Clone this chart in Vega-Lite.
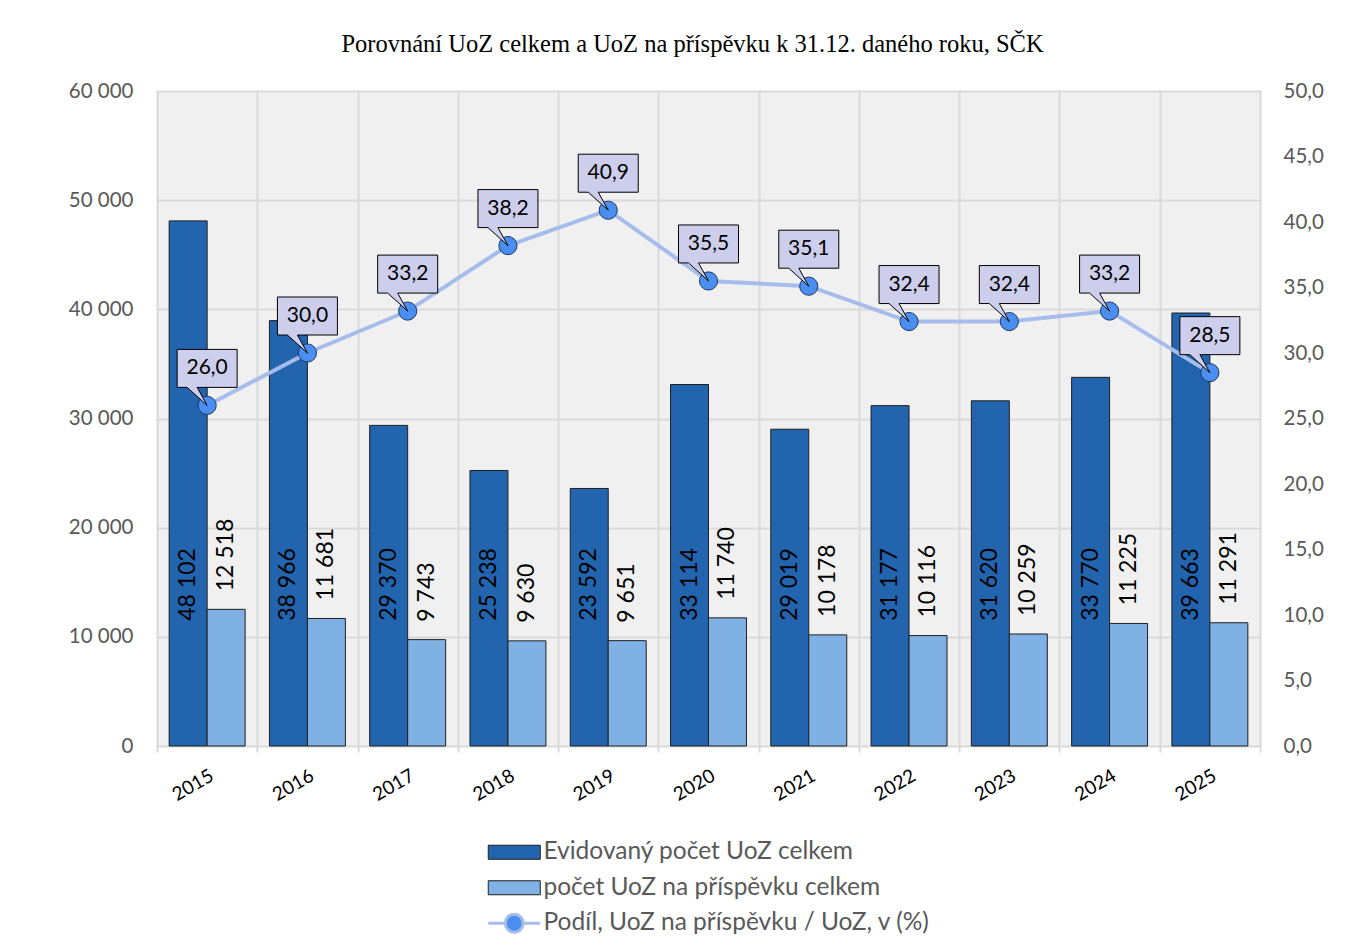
{
  "$schema": "https://vega.github.io/schema/vega-lite/v6.json",
  "width": 1103,
  "height": 655,
  "autosize": {"type": "none"},
  "padding": {"left": 157, "top": 91, "right": 108, "bottom": 202},
  "background": "white",
  "title": {
    "text": "Porovnání UoZ celkem a UoZ na příspěvku k 31.12. daného roku, SČK",
    "font": "Liberation Serif",
    "fontSize": 24.5,
    "fontWeight": "normal",
    "color": "#000000",
    "anchor": "middle",
    "offset": 24,
    "dx": -16
  },
  "config": {
    "locale": {"number": {"decimal": ",", "thousands": " ", "grouping": [3], "currency": ["", ""]}},
    "view": {"stroke": "#404040", "strokeWidth": 1, "fill": "#f0f0f0"},
    "font": "Lato"
  },
  "datasets": {
    "bars": [
      {"rok": "2015", "serie": "Evidovaný počet UoZ celkem", "hodnota": 48102},
      {"rok": "2016", "serie": "Evidovaný počet UoZ celkem", "hodnota": 38966},
      {"rok": "2017", "serie": "Evidovaný počet UoZ celkem", "hodnota": 29370},
      {"rok": "2018", "serie": "Evidovaný počet UoZ celkem", "hodnota": 25238},
      {"rok": "2019", "serie": "Evidovaný počet UoZ celkem", "hodnota": 23592},
      {"rok": "2020", "serie": "Evidovaný počet UoZ celkem", "hodnota": 33114},
      {"rok": "2021", "serie": "Evidovaný počet UoZ celkem", "hodnota": 29019},
      {"rok": "2022", "serie": "Evidovaný počet UoZ celkem", "hodnota": 31177},
      {"rok": "2023", "serie": "Evidovaný počet UoZ celkem", "hodnota": 31620},
      {"rok": "2024", "serie": "Evidovaný počet UoZ celkem", "hodnota": 33770},
      {"rok": "2025", "serie": "Evidovaný počet UoZ celkem", "hodnota": 39663},
      {"rok": "2015", "serie": "počet UoZ na příspěvku celkem", "hodnota": 12518},
      {"rok": "2016", "serie": "počet UoZ na příspěvku celkem", "hodnota": 11681},
      {"rok": "2017", "serie": "počet UoZ na příspěvku celkem", "hodnota": 9743},
      {"rok": "2018", "serie": "počet UoZ na příspěvku celkem", "hodnota": 9630},
      {"rok": "2019", "serie": "počet UoZ na příspěvku celkem", "hodnota": 9651},
      {"rok": "2020", "serie": "počet UoZ na příspěvku celkem", "hodnota": 11740},
      {"rok": "2021", "serie": "počet UoZ na příspěvku celkem", "hodnota": 10178},
      {"rok": "2022", "serie": "počet UoZ na příspěvku celkem", "hodnota": 10116},
      {"rok": "2023", "serie": "počet UoZ na příspěvku celkem", "hodnota": 10259},
      {"rok": "2024", "serie": "počet UoZ na příspěvku celkem", "hodnota": 11225},
      {"rok": "2025", "serie": "počet UoZ na příspěvku celkem", "hodnota": 11291}
    ],
    "podil": [
      {"rok": "2015", "serie": "Podíl, UoZ na příspěvku / UoZ, v (%)", "podil": 26.0},
      {"rok": "2016", "serie": "Podíl, UoZ na příspěvku / UoZ, v (%)", "podil": 30.0},
      {"rok": "2017", "serie": "Podíl, UoZ na příspěvku / UoZ, v (%)", "podil": 33.2},
      {"rok": "2018", "serie": "Podíl, UoZ na příspěvku / UoZ, v (%)", "podil": 38.2},
      {"rok": "2019", "serie": "Podíl, UoZ na příspěvku / UoZ, v (%)", "podil": 40.9},
      {"rok": "2020", "serie": "Podíl, UoZ na příspěvku / UoZ, v (%)", "podil": 35.5},
      {"rok": "2021", "serie": "Podíl, UoZ na příspěvku / UoZ, v (%)", "podil": 35.1},
      {"rok": "2022", "serie": "Podíl, UoZ na příspěvku / UoZ, v (%)", "podil": 32.4},
      {"rok": "2023", "serie": "Podíl, UoZ na příspěvku / UoZ, v (%)", "podil": 32.4},
      {"rok": "2024", "serie": "Podíl, UoZ na příspěvku / UoZ, v (%)", "podil": 33.2},
      {"rok": "2025", "serie": "Podíl, UoZ na příspěvku / UoZ, v (%)", "podil": 28.5}
    ]
  },
  "encoding": {
    "x": {
      "field": "rok",
      "type": "ordinal",
      "scale": {"paddingInner": 0, "paddingOuter": 0},
      "axis": {
        "title": null,
        "labelAngle": -30,
        "labelFont": "Lato",
        "labelFontSize": 19,
        "labelColor": "#000000",
        "labelPadding": 14,
        "labelOffset": 0,
        "tickBand": "extent",
        "ticks": true,
        "tickSize": 6,
        "tickColor": "#d9d9d9",
        "tickWidth": 2,
        "grid": true,
        "gridColor": "#d9d9d9",
        "gridWidth": 2,
        "domainColor": "#d9d9d9",
        "domainWidth": 1
      }
    }
  },
  "layer": [
    {
      "data": {"name": "bars"},
      "encoding": {
        "xOffset": {
          "field": "serie",
          "type": "nominal",
          "sort": ["Evidovaný počet UoZ celkem", "počet UoZ na příspěvku celkem"],
          "scale": {"paddingInner": 0, "paddingOuter": 0.32}
        },
        "y": {
          "field": "hodnota",
          "type": "quantitative",
          "scale": {"domain": [0, 60000], "nice": false},
          "axis": {
            "title": null,
            "values": [0, 10000, 20000, 30000, 40000, 50000, 60000],
            "format": ",d",
            "labelFont": "Lato",
            "labelFontSize": 20.5,
            "labelColor": "#595959",
            "ticks": false,
            "tickSize": 0,
            "domain": false,
            "grid": true,
            "gridColor": "#d9d9d9",
            "gridWidth": 2,
            "labelPadding": 24
          }
        }
      },
      "layer": [
        {
          "mark": {"type": "bar", "stroke": "#1f1f1f", "strokeWidth": 1},
          "encoding": {
            "color": {
              "field": "serie",
              "type": "nominal",
              "sort": ["Evidovaný počet UoZ celkem", "počet UoZ na příspěvku celkem"],
              "scale": {
                "domain": ["Evidovaný počet UoZ celkem", "počet UoZ na příspěvku celkem"],
                "range": ["#2264ae", "#7fb1e4"]
              },
              "legend": {
                "title": null,
                "orient": "none",
                "legendX": 329,
                "legendY": 749,
                "direction": "vertical",
                "padding": 0,
                "labelFont": "Lato",
                "labelFontSize": 24.5,
                "labelColor": "#595959",
                "labelLimit": 700,
                "symbolSize": 400,
                "symbolType": "M-2.6,-0.7 H2.6 V0.7 H-2.6 Z",
                "symbolStrokeColor": "#1f1f1f",
                "symbolStrokeWidth": 1,
                "symbolOpacity": 1,
                "symbolOffset": 16,
                "labelOffset": 17,
                "rowPadding": 10.5
              }
            }
          }
        },
        {
          "transform": [{"filter": "datum.serie === 'Evidovaný počet UoZ celkem'"}],
          "mark": {"type": "text", "angle": 270, "align": "center", "baseline": "middle", "font": "Lato", "fontSize": 23, "color": "#000000"},
          "encoding": {
            "y": {"datum": 14800, "type": "quantitative"},
            "text": {"field": "hodnota", "type": "quantitative", "format": ",d"}
          }
        },
        {
          "transform": [{"filter": "datum.serie === 'počet UoZ na příspěvku celkem'"}],
          "mark": {"type": "text", "angle": 270, "align": "left", "baseline": "middle", "dx": 18, "font": "Lato", "fontSize": 23, "color": "#000000"},
          "encoding": {
            "y": {"field": "hodnota", "type": "quantitative"},
            "text": {"field": "hodnota", "type": "quantitative", "format": ",d"}
          }
        }
      ]
    },
    {
      "data": {"name": "podil"},
      "encoding": {
        "y": {
          "field": "podil",
          "type": "quantitative",
          "scale": {"domain": [0, 50], "nice": false},
          "axis": {
            "title": null,
            "orient": "right",
            "values": [0, 5, 10, 15, 20, 25, 30, 35, 40, 45, 50],
            "format": ".1f",
            "labelFont": "Lato",
            "labelFontSize": 20.5,
            "labelColor": "#595959",
            "ticks": false,
            "tickSize": 0,
            "domain": false,
            "grid": false,
            "labelPadding": 23
          }
        }
      },
      "layer": [
        {
          "mark": {"type": "line", "strokeWidth": 4},
          "encoding": {
            "stroke": {
              "field": "serie",
              "type": "nominal",
              "scale": {"range": ["#a6bcea"]},
              "legend": {
                "title": null,
                "orient": "none",
                "legendX": 329,
                "legendY": 820,
                "direction": "vertical",
                "padding": 0,
                "labelFont": "Lato",
                "labelFontSize": 24.5,
                "labelColor": "#595959",
                "labelLimit": 700,
                "symbolSize": 400,
                "symbolType": "M-2.6,0 H-0.9 M0.9,0 H2.6 M-0.9,0 A0.9,0.9 0 1,0 0.9,0 A0.9,0.9 0 1,0 -0.9,0 Z",
                "symbolFillColor": "#4a8ef0",
                "symbolStrokeWidth": 3,
                "symbolOpacity": 1,
                "symbolOffset": 16,
                "labelOffset": 17
              }
            }
          }
        },
        {
          "mark": {"type": "point", "filled": true, "size": 330, "fill": "#4a8ef0", "stroke": "#1f3864", "strokeWidth": 1, "opacity": 1}
        },
        {
          "mark": {
            "type": "point",
            "filled": true,
            "shape": "M-2,-3.733 H2 V-1.2 H-0.667 L0,0 L-1.333,-1.2 H-2 Z",
            "size": 900,
            "fill": "#cdceec",
            "stroke": "#000000",
            "strokeWidth": 1,
            "opacity": 1
          }
        },
        {
          "mark": {"type": "text", "dy": -37, "align": "center", "baseline": "middle", "font": "Lato", "fontSize": 21, "color": "#000000"},
          "encoding": {
            "text": {"field": "podil", "type": "quantitative", "format": ".1f"}
          }
        }
      ]
    }
  ],
  "resolve": {"scale": {"y": "independent"}}
}
